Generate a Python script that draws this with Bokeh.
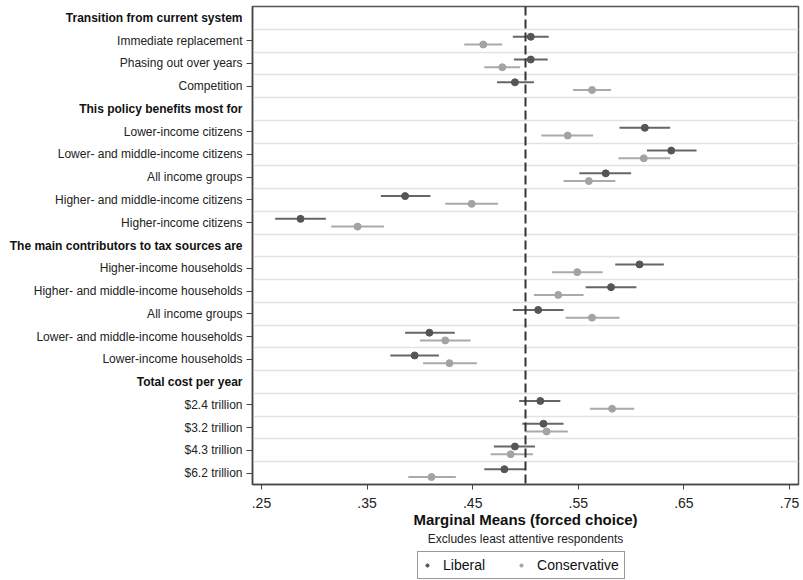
from bokeh.plotting import figure
from bokeh.models import (ColumnDataSource, Range1d, FixedTicker, Span,
                          Legend, LegendItem)
from bokeh.layouts import row, column
from bokeh.core.properties import value
from bokeh.transform import dodge
from bokeh.embed import file_html
from bokeh.resources import INLINE

# ---------------- data ----------------
row_labels = [
    "Transition from current system",
    "Immediate replacement", "Phasing out over years", "Competition",
    "This policy benefits most for",
    "Lower-income citizens", "Lower- and middle-income citizens", "All income groups",
    "Higher- and middle-income citizens", "Higher-income citizens",
    "The main contributors to tax sources are",
    "Higher-income households", "Higher- and middle-income households", "All income groups",
    "Lower- and middle-income households", "Lower-income households",
    "Total cost per year",
    "$2.4 trillion", "$3.2 trillion", "$4.3 trillion", "$6.2 trillion",
]
is_header = [True, False, False, False,
             True, False, False, False, False, False,
             True, False, False, False, False, False,
             True, False, False, False, False]

lib_mean = [0.505, 0.505, 0.490, 0.613, 0.638, 0.576, 0.386, 0.287,
            0.608, 0.581, 0.512, 0.409, 0.395, 0.514, 0.517, 0.490, 0.480]
lib_lo = [0.488, 0.489, 0.473, 0.589, 0.615, 0.551, 0.363, 0.263,
          0.585, 0.557, 0.488, 0.386, 0.372, 0.494, 0.497, 0.470, 0.461]
lib_hi = [0.522, 0.521, 0.508, 0.637, 0.662, 0.600, 0.410, 0.311,
          0.631, 0.605, 0.536, 0.433, 0.418, 0.533, 0.536, 0.509, 0.500]

con_mean = [0.460, 0.478, 0.563, 0.540, 0.612, 0.560, 0.449, 0.341,
            0.549, 0.531, 0.563, 0.424, 0.428, 0.582, 0.520, 0.486, 0.411]
con_lo = [0.442, 0.461, 0.545, 0.515, 0.588, 0.536, 0.424, 0.316,
          0.525, 0.508, 0.538, 0.400, 0.403, 0.561, 0.500, 0.467, 0.389]
con_hi = [0.478, 0.495, 0.581, 0.564, 0.637, 0.585, 0.474, 0.366,
          0.573, 0.555, 0.589, 0.448, 0.454, 0.603, 0.540, 0.507, 0.434]

x_ticks = [0.25, 0.35, 0.45, 0.55, 0.65, 0.75]
x_tick_labels = [".25", ".35", ".45", ".55", ".65", ".75"]

series_names = ["Liberal", "Conservative"]
x_title = "Marginal Means (forced choice)"
subtitle = "Excludes least attentive respondents"

# --------------- setup ----------------
rows_all = list(range(len(row_labels)))
item_rows = [r for r in rows_all if not is_header[r]]
header_rows = [r for r in rows_all if is_header[r]]

FONT = "Liberation Sans"
LIB_DOT, LIB_LINE = "#555555", "#666666"
CON_DOT, CON_LINE = "#a3a3a3", "#aaaaaa"

TOP, BOT = 6, 46
LEFT_W, MAIN_W, MAIN_H, BOT_H = 245, 558, 530, 50

y_range = Range1d(len(row_labels) - 0.5, -0.5)
x0, x1 = 0.2415, 0.7585

# ---------- left label panel ----------
pl = figure(width=LEFT_W, height=MAIN_H, output_backend="svg", toolbar_location=None,
            x_range=Range1d(0, LEFT_W), y_range=y_range,
            x_axis_location=None, y_axis_location=None,
            min_border_left=0, min_border_right=0, min_border_top=TOP,
            min_border_bottom=BOT)
pl.outline_line_color = None
pl.grid.visible = False
src_items = ColumnDataSource(dict(row=item_rows, label=[row_labels[r] for r in item_rows]))
src_heads = ColumnDataSource(dict(row=header_rows, label=[row_labels[r] for r in header_rows]))
pl.text(x=242, y="row", text="label", source=src_items, text_align="right",
        text_baseline="middle", text_font=value(FONT), text_font_size="12px",
        text_color="#222222")
pl.text(x=242, y="row", text="label", source=src_heads, text_align="right",
        text_baseline="middle", text_font=value(FONT), text_font_size="12px",
        text_font_style="bold", text_color="#111111")

# ---------- main plot ----------
p = figure(width=MAIN_W, height=MAIN_H, output_backend="svg", toolbar_location=None,
           x_range=Range1d(x0, x1), y_range=y_range,
           min_border_left=7, min_border_right=5, min_border_top=TOP,
           min_border_bottom=BOT)
p.outline_line_color = "#555555"
p.outline_line_width = 1.5

p.xgrid.visible = False
p.ygrid.ticker = FixedTicker(ticks=[r + 0.5 for r in rows_all[:-1]])
p.ygrid.grid_line_color = "#e2e2e2"
p.ygrid.grid_line_width = 1.5

ya = p.yaxis[0]
ya.ticker = FixedTicker(ticks=item_rows)
ya.major_label_overrides = {r: "" for r in item_rows}
ya.major_label_standoff = 0
ya.major_tick_in = 0
ya.major_tick_out = 6
ya.major_tick_line_color = "#444444"
ya.minor_tick_line_color = None
ya.axis_line_color = "#444444"
ya.axis_line_width = 1.5

xa = p.xaxis[0]
xa.ticker = FixedTicker(ticks=x_ticks)
xa.major_label_overrides = dict(zip(x_ticks, x_tick_labels))
xa.major_label_text_font = FONT
xa.major_label_text_font_size = "14px"
xa.major_label_text_color = "#222222"
xa.major_tick_in = 0
xa.major_tick_out = 5
xa.major_tick_line_color = "#444444"
xa.minor_tick_line_color = None
xa.axis_line_color = "#444444"
xa.axis_line_width = 1.5
xa.major_label_standoff = 8
xa.axis_label = x_title
xa.axis_label_text_font = FONT
xa.axis_label_text_font_size = "15px"
xa.axis_label_text_font_style = "bold"
xa.axis_label_text_color = "#111111"
xa.axis_label_standoff = 0

p.add_layout(Span(location=0.5, dimension="height", line_color="#333333",
                  line_width=2, line_dash="9 4"))

src = ColumnDataSource(dict(row=item_rows, lib_mean=lib_mean, lib_lo=lib_lo, lib_hi=lib_hi,
                            con_mean=con_mean, con_lo=con_lo, con_hi=con_hi))
off = 0.17
p.segment(x0="lib_lo", x1="lib_hi", y0=dodge("row", -off, range=y_range),
          y1=dodge("row", -off, range=y_range), source=src,
          line_color=LIB_LINE, line_width=2)
p.segment(x0="con_lo", x1="con_hi", y0=dodge("row", off, range=y_range),
          y1=dodge("row", off, range=y_range), source=src,
          line_color=CON_LINE, line_width=2)
p.scatter(x="lib_mean", y=dodge("row", -off, range=y_range), source=src,
          size=7, fill_color=LIB_DOT, line_color=LIB_DOT)
p.scatter(x="con_mean", y=dodge("row", off, range=y_range), source=src,
          size=7, fill_color=CON_DOT, line_color=CON_DOT)

# ---------- bottom: subtitle + legend ----------
pb = figure(width=LEFT_W + MAIN_W, height=BOT_H, output_backend="svg",
            toolbar_location=None, x_range=Range1d(0, LEFT_W + MAIN_W),
            y_range=Range1d(BOT_H, 0), x_axis_location=None, y_axis_location=None,
            min_border=0)
pb.outline_line_color = None
pb.grid.visible = False
pb.text(x=[525], y=[8], text=[subtitle], text_align="center", text_baseline="middle",
        text_font=value(FONT), text_font_size="12px", text_color="#222222")
# legend proxies (placed outside the visible area; only their legend glyphs show)
proxy = ColumnDataSource(dict(x=[-100], y=[-100]))
lr = pb.scatter(x="x", y="y", source=proxy, size=6, fill_color=LIB_DOT, line_color=LIB_DOT)
cr = pb.scatter(x="x", y="y", source=proxy, size=6, fill_color=CON_DOT, line_color=CON_DOT)
legend = Legend(items=[LegendItem(label=series_names[0], renderers=[lr]),
                       LegendItem(label=series_names[1], renderers=[cr])],
                orientation="horizontal", location=(417, 1),
                label_text_font=FONT, label_text_font_size="14px",
                label_text_color="#111111", glyph_width=8, glyph_height=14,
                label_standoff=12, spacing=32, padding=5, margin=0,
                border_line_color="#333333", border_line_width=1,
                background_fill_color="white", background_fill_alpha=1.0)
pb.add_layout(legend, "center")

layout = column(row(pl, p, spacing=0), pb, spacing=0)
open("out.html", "w").write(file_html(layout, INLINE))
